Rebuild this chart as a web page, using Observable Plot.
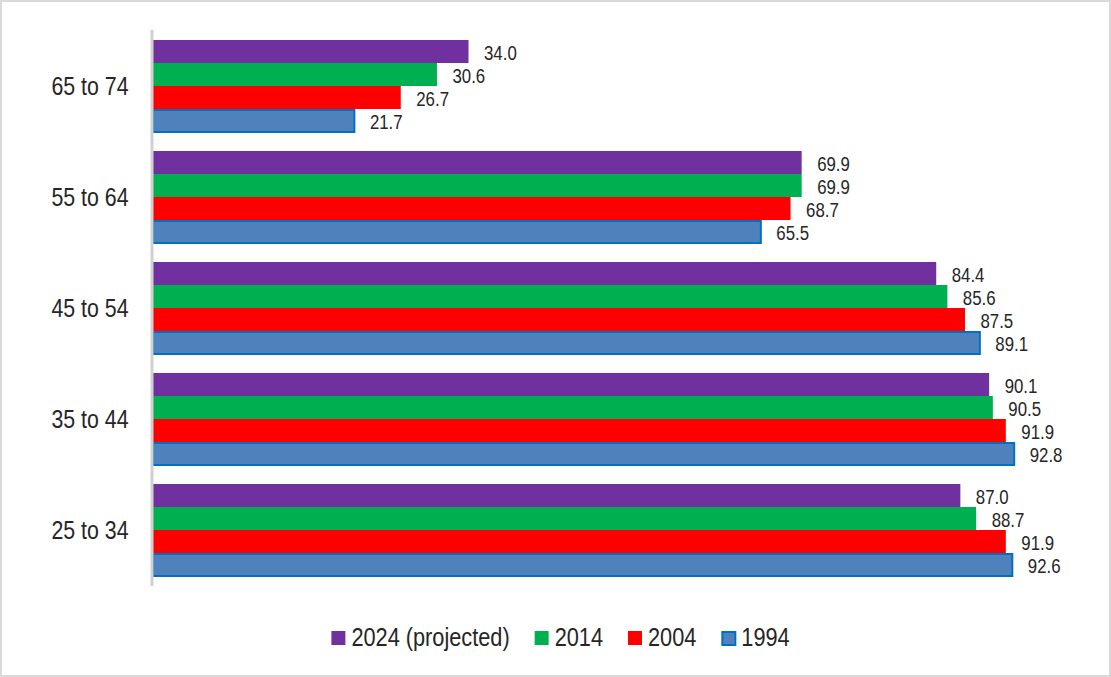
<!DOCTYPE html>
<html>
<head>
<meta charset="utf-8">
<script src="https://cdn.jsdelivr.net/npm/d3@7"></script>
<script src="https://cdn.jsdelivr.net/npm/@observablehq/plot@0.6"></script>
<style>
  html, body { margin: 0; padding: 0; background: #fff; }
  #wrap { position: relative; width: 1111px; height: 677px; overflow: hidden; }
  #border { position: absolute; left: 0; top: 0; width: 1111px; height: 677px; box-sizing: border-box;
            border: 2px solid #d9d9d9; pointer-events: none; }
  #chart { position: absolute; left: 0; top: 0; }
  #legend { position: absolute; left: 0; top: 610px; }
</style>
</head>
<body>
<div id="wrap">
  <div id="chart"></div>
  <div id="legend"></div>
  <div id="border"></div>
</div>
<script>
// Age groups, top to bottom
const ages = ["65 to 74", "55 to 64", "45 to 54", "35 to 44", "25 to 34"];
// Series, in the order drawn within each group
const seriesNames = ["2024 (projected)", "2014", "2004", "1994"];
const colors = ["#7030A0", "#00B050", "#FF0000", "#4F81BD"];
// Participation rates (%) by age group
const v2024 = [34.0, 69.9, 84.4, 90.1, 87.0];
const v2014 = [30.6, 69.9, 85.6, 90.5, 88.7];
const v2004 = [26.7, 68.7, 87.5, 91.9, 91.9];
const v1994 = [21.7, 65.5, 89.1, 92.8, 92.6];

const seriesValues = [v2024, v2014, v2004, v1994];
const data = ages.flatMap((age, i) =>
  seriesNames.map((s, j) => ({ age, series: s, value: seriesValues[j][i] }))
);

const FONT = "'Liberation Sans', Arial, sans-serif";
const NARROW = 0.82; // horizontal squeeze, giving a narrow face

// Compress every text element horizontally to a narrow width
function condense(root) {
  root.querySelectorAll("text").forEach(t => {
    const len = t.getComputedTextLength();
    if (len > 0) {
      t.setAttribute("textLength", (len * NARROW).toFixed(2));
      t.setAttribute("lengthAdjust", "spacingAndGlyphs");
    }
  });
}

const chart = Plot.plot({
  width: 1111,
  height: 600,
  marginLeft: 153,
  marginRight: 30,
  marginTop: 29,
  marginBottom: 14,
  style: { fontFamily: FONT, color: "#262626", background: "transparent" },
  x: { domain: [0, 100], axis: null },
  y: { domain: seriesNames, padding: 0, axis: null },
  fy: { domain: ages, paddingInner: 0.157, paddingOuter: 0.083 },
  color: { domain: seriesNames, range: colors },
  marks: [
    Plot.barX(data, { filter: d => d.series !== "1994", x: "value", y: "series", fy: "age", fill: "series" }),
    Plot.barX(data, { filter: d => d.series === "1994", x: "value", y: "series", fy: "age", fill: "series",
      stroke: "#0070C0", strokeWidth: 2, insetTop: 1, insetBottom: 0 }),
    Plot.text(data, { x: "value", y: "series", fy: "age", text: d => d.value.toFixed(1),
      textAnchor: "start", dx: 15, dy: 1, fontSize: 20.5, fill: "#262626" }),
    Plot.ruleX([0], { stroke: "#d0d0d0", strokeWidth: 3, dx: -1.5, insetTop: -9, insetBottom: -9 }),
    Plot.axisFy({ anchor: "left", tickSize: 0, tickPadding: 25, fontSize: 26, label: null })
  ]
});
document.getElementById("chart").append(chart);
condense(chart);

// Legend: swatch + label per series, centred under the bars
const lsvg = d3.select("#legend").append("svg")
  .attr("width", 1111).attr("height", 56)
  .style("font-family", FONT);
const lg = lsvg.append("g");
let cx = 0;
seriesNames.forEach((s, i) => {
  lg.append("rect")
    .attr("x", s === "1994" ? cx + 1 : cx).attr("y", s === "1994" ? 22 : 21)
    .attr("width", s === "1994" ? 13 : 14).attr("height", s === "1994" ? 13 : 14)
    .attr("fill", colors[i])
    .attr("stroke", s === "1994" ? "#0070C0" : "none")
    .attr("stroke-width", 2);
  const t = lg.append("text")
    .attr("x", cx + 20).attr("y", 36)
    .attr("font-size", 26.5).attr("fill", "#262626")
    .text(s);
  const len = t.node().getComputedTextLength() * NARROW;
  t.attr("textLength", len.toFixed(2)).attr("lengthAdjust", "spacingAndGlyphs");
  cx += 20 + len + (i < seriesNames.length - 1 ? 25 : 0);
});
lg.attr("transform", `translate(${(560.5 - cx / 2).toFixed(1)},0)`);
</script>
</body>
</html>
